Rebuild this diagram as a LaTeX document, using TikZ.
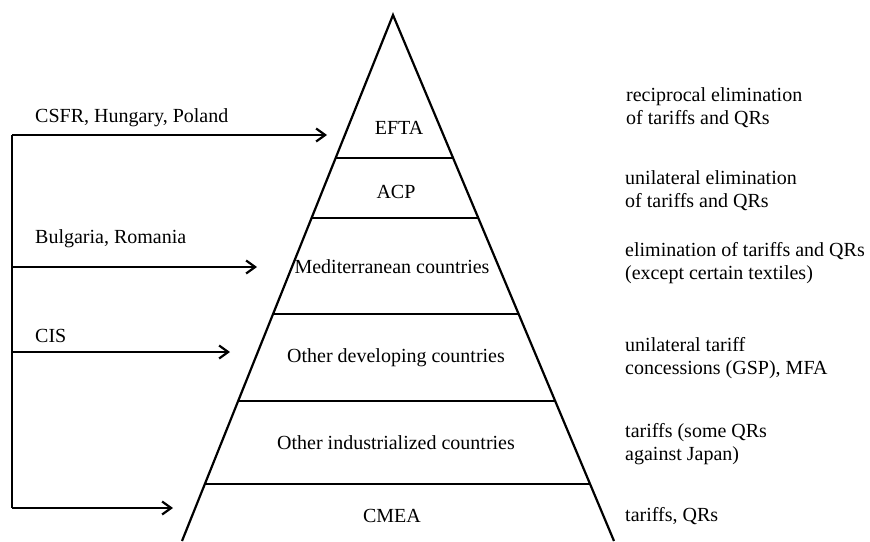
\documentclass[tikz,border=0pt]{standalone}
\usepackage{fontspec}
\setmainfont{Liberation Serif}
\usetikzlibrary{arrows.meta,calc}
\begin{document}
\begin{tikzpicture}[x=1pt,y=-1pt,
  edge/.style={line width=2.2pt},
  arr/.style={line width=2.2pt,-{Straight Barb[length=9pt,width=13pt,line width=2.2pt]}},
  tier/.style={font=\fontsize{20}{23}\selectfont, inner sep=0pt},
  note/.style={font=\fontsize{20}{23}\selectfont, align=left, anchor=west, inner sep=0pt},
  src/.style={font=\fontsize{20}{23}\selectfont, anchor=west, inner sep=0pt},
  ]
\useasboundingbox (0,0) rectangle (870,541);
% pyramid
\coordinate (apex) at (393,15);
\coordinate (bl) at (182,541);
\coordinate (br) at (614,541);
\draw[edge,line join=miter] (bl) -- (apex) -- (br);
\foreach \i/\t in {1/0.2719,2/0.3859,3/0.5684,4/0.7338,5/0.8916}{
  \coordinate (l\i) at ($(apex)!\t!(bl)$);
  \coordinate (r\i) at ($(apex)!\t!(br)$);
  \draw[edge] (l\i) -- (r\i);
}
% tier labels
\node[tier] (efta) at (399,128) {EFTA};
\node[tier] (acp) at (396,192) {ACP};
\node[tier] (med) at (392,267) {Mediterranean countries};
\node[tier] (odc) at (396,358) {Other developing countries};
\node[tier] (oic) at (396,443) {Other industrialized countries};
\node[tier] (cmea) at (392,516) {CMEA};
% right notes
\node[note] (n1) at (626,108) {reciprocal elimination\\of tariffs and QRs};
\node[note] (n2) at (625,191) {unilateral elimination\\of tariffs and QRs};
\node[note] (n3) at (625,263) {elimination of tariffs and QRs\\(except certain textiles)};
\node[note] (n4) at (625,358) {unilateral tariff\\concessions (GSP), MFA};
\node[note] (n5) at (625,444) {tariffs (some QRs\\against Japan)};
\node[note] (n6) at (625,516) {tariffs, QRs};
% left sources
\node[src] (s1) at (35,118) {CSFR, Hungary, Poland};
\node[src] (s2) at (35,239) {Bulgaria, Romania};
\node[src] (s3) at (35,336) {CIS};
% arrows
\coordinate (j1) at (12,135);
\coordinate (j2) at (12,267);
\coordinate (j3) at (12,352);
\coordinate (j4) at (12,508);
\coordinate (t1) at (327,135);
\coordinate (t2) at (257,267);
\coordinate (t3) at (230,352);
\coordinate (t4) at (173,508);
\draw[edge] (j1) -- (j4);
\draw[arr] (j1) -- (t1);
\draw[arr] (j2) -- (t2);
\draw[arr] (j3) -- (t3);
\draw[arr] (j4) -- (t4);
\end{tikzpicture}
\end{document}
